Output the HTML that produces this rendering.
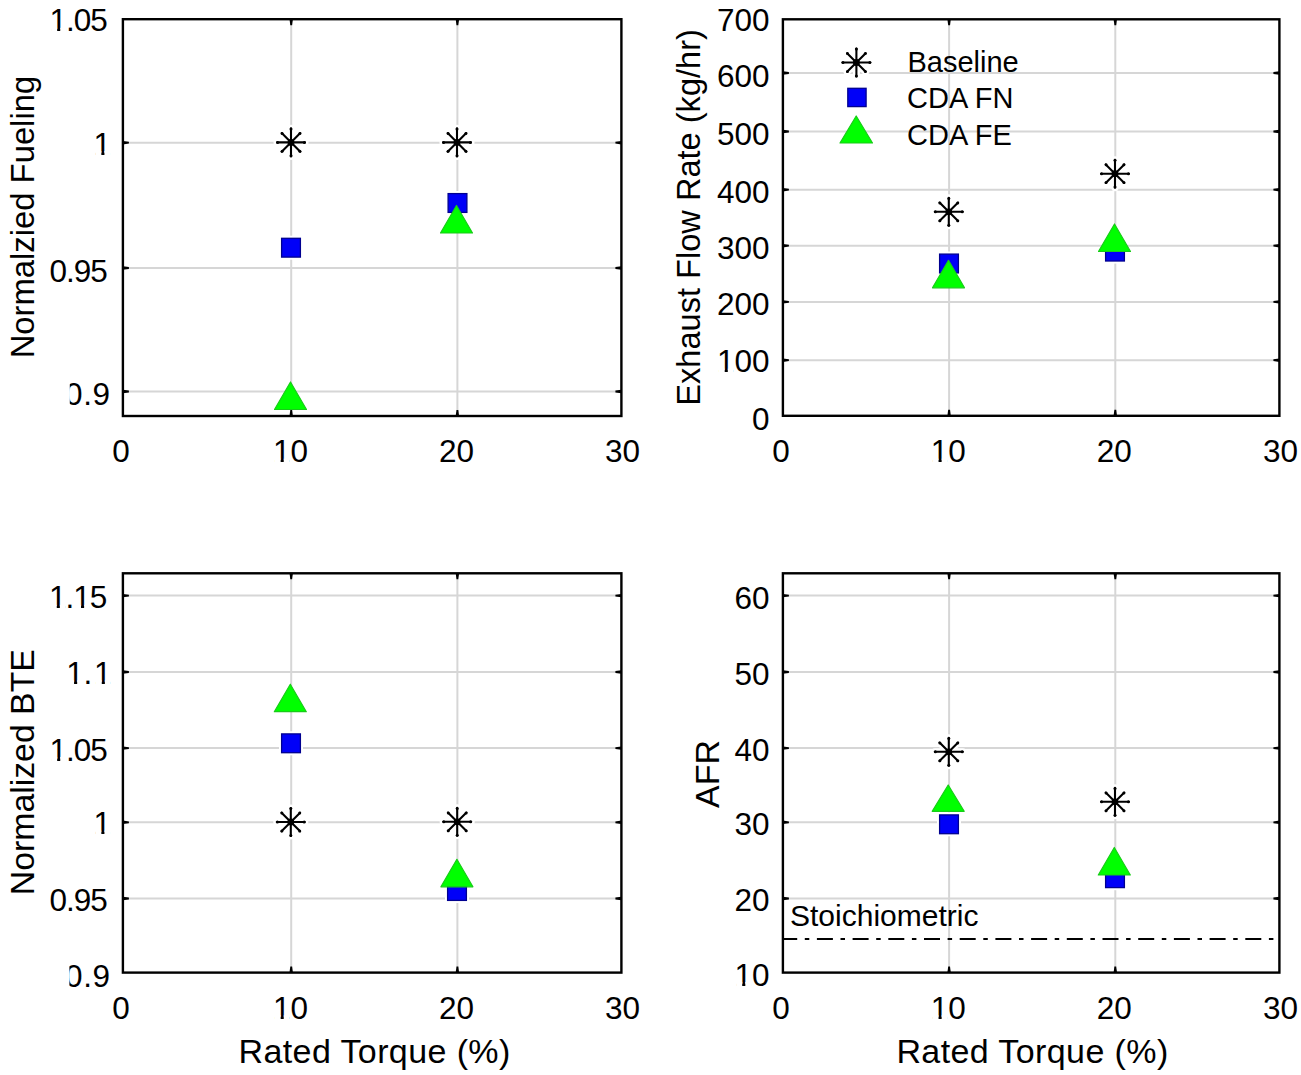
<!DOCTYPE html><html><head><meta charset="utf-8"><style>html,body{margin:0;padding:0;background:#fff;overflow:hidden;}svg{display:block;font-family:"Liberation Sans", sans-serif;}</style></head><body>
<svg width="1301" height="1075" viewBox="0 0 1301 1075">
<rect width="1301" height="1075" fill="#fff"/>
<g>
<line x1="291.2" y1="19.2" x2="291.2" y2="416" stroke="#d6d6d6" stroke-width="2.0"/>
<line x1="457.4" y1="19.2" x2="457.4" y2="416" stroke="#d6d6d6" stroke-width="2.0"/>
<line x1="122.9" y1="142.7" x2="621.4" y2="142.7" stroke="#d6d6d6" stroke-width="2.0"/>
<line x1="122.9" y1="268" x2="621.4" y2="268" stroke="#d6d6d6" stroke-width="2.0"/>
<line x1="122.9" y1="391.5" x2="621.4" y2="391.5" stroke="#d6d6d6" stroke-width="2.0"/>
<path d="M289.50 19.20L290.30 25.20L292.10 25.20L292.90 19.20Z" fill="#000"/>
<path d="M292.90 416.00L292.10 410.00L290.30 410.00L289.50 416.00Z" fill="#000"/>
<path d="M455.70 19.20L456.50 25.20L458.30 25.20L459.10 19.20Z" fill="#000"/>
<path d="M459.10 416.00L458.30 410.00L456.50 410.00L455.70 416.00Z" fill="#000"/>
<path d="M122.90 144.40L128.90 143.60L128.90 141.80L122.90 141.00Z" fill="#000"/>
<path d="M621.40 141.00L615.40 141.80L615.40 143.60L621.40 144.40Z" fill="#000"/>
<path d="M122.90 269.70L128.90 268.90L128.90 267.10L122.90 266.30Z" fill="#000"/>
<path d="M621.40 266.30L615.40 267.10L615.40 268.90L621.40 269.70Z" fill="#000"/>
<path d="M122.90 393.20L128.90 392.40L128.90 390.60L122.90 389.80Z" fill="#000"/>
<path d="M621.40 389.80L615.40 390.60L615.40 392.40L621.40 393.20Z" fill="#000"/>
<rect x="122.9" y="19.2" width="498.5" height="396.8" fill="none" stroke="#000" stroke-width="2.4"/>
<text x="121.1" y="462.3" text-anchor="middle" font-size="31.5">0</text>
<text x="290.4" y="462.3" text-anchor="middle" font-size="31.5">10</text>
<text x="456.4" y="462.3" text-anchor="middle" font-size="31.5">20</text>
<text x="622.6" y="462.3" text-anchor="middle" font-size="31.5">30</text>
<text x="106.7" y="31.4" text-anchor="end" font-size="31.5" letter-spacing="-1">1.05</text>
<text x="111.1" y="154.6" text-anchor="end" font-size="31.5">1</text>
<text x="106.7" y="282.4" text-anchor="end" font-size="31.5" letter-spacing="-1">0.95</text>
<text x="65.0 83.2 92.5" y="405.4" font-size="31.5">0.9</text>
</g>
<line x1="949.1" y1="19.3" x2="949.1" y2="415.8" stroke="#d6d6d6" stroke-width="2.0"/>
<line x1="1115.3" y1="19.3" x2="1115.3" y2="415.8" stroke="#d6d6d6" stroke-width="2.0"/>
<line x1="782.9" y1="73.0" x2="1279.4" y2="73.0" stroke="#d6d6d6" stroke-width="2.0"/>
<line x1="782.9" y1="131.5" x2="1279.4" y2="131.5" stroke="#d6d6d6" stroke-width="2.0"/>
<line x1="782.9" y1="189.7" x2="1279.4" y2="189.7" stroke="#d6d6d6" stroke-width="2.0"/>
<line x1="782.9" y1="245.7" x2="1279.4" y2="245.7" stroke="#d6d6d6" stroke-width="2.0"/>
<line x1="782.9" y1="301.9" x2="1279.4" y2="301.9" stroke="#d6d6d6" stroke-width="2.0"/>
<line x1="782.9" y1="360.2" x2="1279.4" y2="360.2" stroke="#d6d6d6" stroke-width="2.0"/>
<path d="M947.40 19.30L948.20 25.30L950.00 25.30L950.80 19.30Z" fill="#000"/>
<path d="M950.80 415.80L950.00 409.80L948.20 409.80L947.40 415.80Z" fill="#000"/>
<path d="M1113.60 19.30L1114.40 25.30L1116.20 25.30L1117.00 19.30Z" fill="#000"/>
<path d="M1117.00 415.80L1116.20 409.80L1114.40 409.80L1113.60 415.80Z" fill="#000"/>
<path d="M782.90 74.70L788.90 73.90L788.90 72.10L782.90 71.30Z" fill="#000"/>
<path d="M1279.40 71.30L1273.40 72.10L1273.40 73.90L1279.40 74.70Z" fill="#000"/>
<path d="M782.90 133.20L788.90 132.40L788.90 130.60L782.90 129.80Z" fill="#000"/>
<path d="M1279.40 129.80L1273.40 130.60L1273.40 132.40L1279.40 133.20Z" fill="#000"/>
<path d="M782.90 191.40L788.90 190.60L788.90 188.80L782.90 188.00Z" fill="#000"/>
<path d="M1279.40 188.00L1273.40 188.80L1273.40 190.60L1279.40 191.40Z" fill="#000"/>
<path d="M782.90 247.40L788.90 246.60L788.90 244.80L782.90 244.00Z" fill="#000"/>
<path d="M1279.40 244.00L1273.40 244.80L1273.40 246.60L1279.40 247.40Z" fill="#000"/>
<path d="M782.90 303.60L788.90 302.80L788.90 301.00L782.90 300.20Z" fill="#000"/>
<path d="M1279.40 300.20L1273.40 301.00L1273.40 302.80L1279.40 303.60Z" fill="#000"/>
<path d="M782.90 361.90L788.90 361.10L788.90 359.30L782.90 358.50Z" fill="#000"/>
<path d="M1279.40 358.50L1273.40 359.30L1273.40 361.10L1279.40 361.90Z" fill="#000"/>
<rect x="782.9" y="19.3" width="496.5000000000001" height="396.5" fill="none" stroke="#000" stroke-width="2.4"/>
<text x="781.1" y="462.3" text-anchor="middle" font-size="31.5">0</text>
<text x="948.3" y="462.3" text-anchor="middle" font-size="31.5">10</text>
<text x="1114.3" y="462.3" text-anchor="middle" font-size="31.5">20</text>
<text x="1280.6" y="462.3" text-anchor="middle" font-size="31.5">30</text>
<text x="769.5" y="31.2" text-anchor="end" font-size="31.5">700</text>
<text x="769.5" y="87" text-anchor="end" font-size="31.5">600</text>
<text x="769.5" y="144.5" text-anchor="end" font-size="31.5">500</text>
<text x="769.5" y="203" text-anchor="end" font-size="31.5">400</text>
<text x="769.5" y="259" text-anchor="end" font-size="31.5">300</text>
<text x="769.5" y="315" text-anchor="end" font-size="31.5">200</text>
<text x="769.5" y="372.3" text-anchor="end" font-size="31.5">100</text>
<text x="769.5" y="429.6" text-anchor="end" font-size="31.5">0</text>
<line x1="291.2" y1="573.3" x2="291.2" y2="972.6" stroke="#d6d6d6" stroke-width="2.0"/>
<line x1="457.4" y1="573.3" x2="457.4" y2="972.6" stroke="#d6d6d6" stroke-width="2.0"/>
<line x1="122.9" y1="595.6" x2="621.4" y2="595.6" stroke="#d6d6d6" stroke-width="2.0"/>
<line x1="122.9" y1="672.0" x2="621.4" y2="672.0" stroke="#d6d6d6" stroke-width="2.0"/>
<line x1="122.9" y1="748.1" x2="621.4" y2="748.1" stroke="#d6d6d6" stroke-width="2.0"/>
<line x1="122.9" y1="822.3" x2="621.4" y2="822.3" stroke="#d6d6d6" stroke-width="2.0"/>
<line x1="122.9" y1="898.5" x2="621.4" y2="898.5" stroke="#d6d6d6" stroke-width="2.0"/>
<path d="M289.50 573.30L290.30 579.30L292.10 579.30L292.90 573.30Z" fill="#000"/>
<path d="M292.90 972.60L292.10 966.60L290.30 966.60L289.50 972.60Z" fill="#000"/>
<path d="M455.70 573.30L456.50 579.30L458.30 579.30L459.10 573.30Z" fill="#000"/>
<path d="M459.10 972.60L458.30 966.60L456.50 966.60L455.70 972.60Z" fill="#000"/>
<path d="M122.90 597.30L128.90 596.50L128.90 594.70L122.90 593.90Z" fill="#000"/>
<path d="M621.40 593.90L615.40 594.70L615.40 596.50L621.40 597.30Z" fill="#000"/>
<path d="M122.90 673.70L128.90 672.90L128.90 671.10L122.90 670.30Z" fill="#000"/>
<path d="M621.40 670.30L615.40 671.10L615.40 672.90L621.40 673.70Z" fill="#000"/>
<path d="M122.90 749.80L128.90 749.00L128.90 747.20L122.90 746.40Z" fill="#000"/>
<path d="M621.40 746.40L615.40 747.20L615.40 749.00L621.40 749.80Z" fill="#000"/>
<path d="M122.90 824.00L128.90 823.20L128.90 821.40L122.90 820.60Z" fill="#000"/>
<path d="M621.40 820.60L615.40 821.40L615.40 823.20L621.40 824.00Z" fill="#000"/>
<path d="M122.90 900.20L128.90 899.40L128.90 897.60L122.90 896.80Z" fill="#000"/>
<path d="M621.40 896.80L615.40 897.60L615.40 899.40L621.40 900.20Z" fill="#000"/>
<rect x="122.9" y="573.3" width="498.5" height="399.30000000000007" fill="none" stroke="#000" stroke-width="2.4"/>
<text x="121.1" y="1018.9" text-anchor="middle" font-size="31.5">0</text>
<text x="290.4" y="1018.9" text-anchor="middle" font-size="31.5">10</text>
<text x="456.4" y="1018.9" text-anchor="middle" font-size="31.5">20</text>
<text x="622.6" y="1018.9" text-anchor="middle" font-size="31.5">30</text>
<text x="106.3" y="608.4" text-anchor="end" font-size="31.5" letter-spacing="-1">1.15</text>
<text x="66.3 83.5 94.0" y="683.9" font-size="31.5">1.1</text>
<text x="106.7" y="760.5" text-anchor="end" font-size="31.5" letter-spacing="-1">1.05</text>
<text x="111.1" y="834.2" text-anchor="end" font-size="31.5">1</text>
<text x="106.7" y="911" text-anchor="end" font-size="31.5" letter-spacing="-1">0.95</text>
<text x="65.0 83.2 92.5" y="986.9" font-size="31.5">0.9</text>
<line x1="949.1" y1="573.3" x2="949.1" y2="972.6" stroke="#d6d6d6" stroke-width="2.0"/>
<line x1="1115.3" y1="573.3" x2="1115.3" y2="972.6" stroke="#d6d6d6" stroke-width="2.0"/>
<line x1="782.9" y1="595.6" x2="1279.4" y2="595.6" stroke="#d6d6d6" stroke-width="2.0"/>
<line x1="782.9" y1="672.0" x2="1279.4" y2="672.0" stroke="#d6d6d6" stroke-width="2.0"/>
<line x1="782.9" y1="748.1" x2="1279.4" y2="748.1" stroke="#d6d6d6" stroke-width="2.0"/>
<line x1="782.9" y1="822.3" x2="1279.4" y2="822.3" stroke="#d6d6d6" stroke-width="2.0"/>
<line x1="782.9" y1="898.5" x2="1279.4" y2="898.5" stroke="#d6d6d6" stroke-width="2.0"/>
<path d="M947.40 573.30L948.20 579.30L950.00 579.30L950.80 573.30Z" fill="#000"/>
<path d="M950.80 972.60L950.00 966.60L948.20 966.60L947.40 972.60Z" fill="#000"/>
<path d="M1113.60 573.30L1114.40 579.30L1116.20 579.30L1117.00 573.30Z" fill="#000"/>
<path d="M1117.00 972.60L1116.20 966.60L1114.40 966.60L1113.60 972.60Z" fill="#000"/>
<path d="M782.90 597.30L788.90 596.50L788.90 594.70L782.90 593.90Z" fill="#000"/>
<path d="M1279.40 593.90L1273.40 594.70L1273.40 596.50L1279.40 597.30Z" fill="#000"/>
<path d="M782.90 673.70L788.90 672.90L788.90 671.10L782.90 670.30Z" fill="#000"/>
<path d="M1279.40 670.30L1273.40 671.10L1273.40 672.90L1279.40 673.70Z" fill="#000"/>
<path d="M782.90 749.80L788.90 749.00L788.90 747.20L782.90 746.40Z" fill="#000"/>
<path d="M1279.40 746.40L1273.40 747.20L1273.40 749.00L1279.40 749.80Z" fill="#000"/>
<path d="M782.90 824.00L788.90 823.20L788.90 821.40L782.90 820.60Z" fill="#000"/>
<path d="M1279.40 820.60L1273.40 821.40L1273.40 823.20L1279.40 824.00Z" fill="#000"/>
<path d="M782.90 900.20L788.90 899.40L788.90 897.60L782.90 896.80Z" fill="#000"/>
<path d="M1279.40 896.80L1273.40 897.60L1273.40 899.40L1279.40 900.20Z" fill="#000"/>
<rect x="782.9" y="573.3" width="496.5000000000001" height="399.30000000000007" fill="none" stroke="#000" stroke-width="2.4"/>
<text x="781.1" y="1018.9" text-anchor="middle" font-size="31.5">0</text>
<text x="948.3" y="1018.9" text-anchor="middle" font-size="31.5">10</text>
<text x="1114.3" y="1018.9" text-anchor="middle" font-size="31.5">20</text>
<text x="1280.6" y="1018.9" text-anchor="middle" font-size="31.5">30</text>
<text x="769.5" y="608.8" text-anchor="end" font-size="31.5">60</text>
<text x="769.5" y="684.6" text-anchor="end" font-size="31.5">50</text>
<text x="769.5" y="761" text-anchor="end" font-size="31.5">40</text>
<text x="769.5" y="835.2" text-anchor="end" font-size="31.5">30</text>
<text x="769.5" y="911" text-anchor="end" font-size="31.5">20</text>
<text x="769.5" y="985.5" text-anchor="end" font-size="31.5">10</text>
<line x1="783" y1="938.9" x2="1273.5" y2="938.9" stroke="#000" stroke-width="2" stroke-dasharray="16 7.6 4.5 7.6" stroke-dashoffset="1.8"/>
<text x="790" y="926.4" font-size="30">Stoichiometric</text>
<path d="M277.0 142.4H305.0M291.0 128.4V156.4M281.7 133.1L300.3 151.7M281.7 151.7L300.3 133.1" stroke="#fff" stroke-width="7.1" stroke-linecap="round" fill="none"/><path d="M277.0 142.4H305.0M291.0 128.4V156.4M281.7 133.1L300.3 151.7M281.7 151.7L300.3 133.1" stroke="#000" stroke-width="2.1" stroke-linecap="round" fill="none"/><circle cx="291" cy="142.4" r="3.4" fill="#000"/><circle cx="277.6" cy="142.4" r="1.5" fill="#000"/><circle cx="304.4" cy="142.4" r="1.5" fill="#000"/><circle cx="291.0" cy="129.0" r="1.5" fill="#000"/><circle cx="291.0" cy="155.8" r="1.5" fill="#000"/><circle cx="282.1" cy="133.5" r="1.5" fill="#000"/><circle cx="299.9" cy="151.3" r="1.5" fill="#000"/><circle cx="282.1" cy="151.3" r="1.5" fill="#000"/><circle cx="299.9" cy="133.5" r="1.5" fill="#000"/>
<path d="M443.0 142.4H471.0M457.0 128.4V156.4M447.7 133.1L466.3 151.7M447.7 151.7L466.3 133.1" stroke="#fff" stroke-width="7.1" stroke-linecap="round" fill="none"/><path d="M443.0 142.4H471.0M457.0 128.4V156.4M447.7 133.1L466.3 151.7M447.7 151.7L466.3 133.1" stroke="#000" stroke-width="2.1" stroke-linecap="round" fill="none"/><circle cx="457" cy="142.4" r="3.4" fill="#000"/><circle cx="443.6" cy="142.4" r="1.5" fill="#000"/><circle cx="470.4" cy="142.4" r="1.5" fill="#000"/><circle cx="457.0" cy="129.0" r="1.5" fill="#000"/><circle cx="457.0" cy="155.8" r="1.5" fill="#000"/><circle cx="448.1" cy="133.5" r="1.5" fill="#000"/><circle cx="465.9" cy="151.3" r="1.5" fill="#000"/><circle cx="448.1" cy="151.3" r="1.5" fill="#000"/><circle cx="465.9" cy="133.5" r="1.5" fill="#000"/>
<rect x="279.0" y="235.7" width="24.0" height="24.0" fill="#fff"/><rect x="281.6" y="238.3" width="18.8" height="18.8" fill="#0000f8" stroke="#000090" stroke-width="1.3"/>
<rect x="445.5" y="191.0" width="24.0" height="24.0" fill="#fff"/><rect x="448.1" y="193.6" width="18.8" height="18.8" fill="#0000f8" stroke="#000090" stroke-width="1.3"/>
<path d="M290.5 382.0L306.5 409.5L274.5 409.5Z" fill="#00ff00" stroke="#18cc18" stroke-width="1.2" stroke-linejoin="round"/>
<path d="M456.5 205.5L472.5 233.0L440.5 233.0Z" fill="#00ff00" stroke="#18cc18" stroke-width="1.2" stroke-linejoin="round"/>
<path d="M934.8 211.8H962.8M948.8 197.8V225.8M939.5 202.5L958.1 221.1M939.5 221.1L958.1 202.5" stroke="#fff" stroke-width="7.1" stroke-linecap="round" fill="none"/><path d="M934.8 211.8H962.8M948.8 197.8V225.8M939.5 202.5L958.1 221.1M939.5 221.1L958.1 202.5" stroke="#000" stroke-width="2.1" stroke-linecap="round" fill="none"/><circle cx="948.8" cy="211.8" r="3.4" fill="#000"/><circle cx="935.4" cy="211.8" r="1.5" fill="#000"/><circle cx="962.2" cy="211.8" r="1.5" fill="#000"/><circle cx="948.8" cy="198.4" r="1.5" fill="#000"/><circle cx="948.8" cy="225.2" r="1.5" fill="#000"/><circle cx="939.9" cy="202.9" r="1.5" fill="#000"/><circle cx="957.7" cy="220.7" r="1.5" fill="#000"/><circle cx="939.9" cy="220.7" r="1.5" fill="#000"/><circle cx="957.7" cy="202.9" r="1.5" fill="#000"/>
<path d="M1101.0 173.7H1129.0M1115.0 159.7V187.7M1105.7 164.4L1124.3 183.0M1105.7 183.0L1124.3 164.4" stroke="#fff" stroke-width="7.1" stroke-linecap="round" fill="none"/><path d="M1101.0 173.7H1129.0M1115.0 159.7V187.7M1105.7 164.4L1124.3 183.0M1105.7 183.0L1124.3 164.4" stroke="#000" stroke-width="2.1" stroke-linecap="round" fill="none"/><circle cx="1115" cy="173.7" r="3.4" fill="#000"/><circle cx="1101.6" cy="173.7" r="1.5" fill="#000"/><circle cx="1128.4" cy="173.7" r="1.5" fill="#000"/><circle cx="1115.0" cy="160.3" r="1.5" fill="#000"/><circle cx="1115.0" cy="187.1" r="1.5" fill="#000"/><circle cx="1106.1" cy="164.8" r="1.5" fill="#000"/><circle cx="1123.9" cy="182.6" r="1.5" fill="#000"/><circle cx="1106.1" cy="182.6" r="1.5" fill="#000"/><circle cx="1123.9" cy="164.8" r="1.5" fill="#000"/>
<rect x="937.0" y="251.5" width="24.0" height="24.0" fill="#fff"/><rect x="939.6" y="254.1" width="18.8" height="18.8" fill="#0000f8" stroke="#000090" stroke-width="1.3"/>
<rect x="1103.0" y="239.6" width="24.0" height="24.0" fill="#fff"/><rect x="1105.6" y="242.2" width="18.8" height="18.8" fill="#0000f8" stroke="#000090" stroke-width="1.3"/>
<path d="M948.5 260.3L964.5 287.8L932.5 287.8Z" fill="#00ff00" stroke="#18cc18" stroke-width="1.2" stroke-linejoin="round"/>
<path d="M1114.5 224.0L1130.5 251.5L1098.5 251.5Z" fill="#00ff00" stroke="#18cc18" stroke-width="1.2" stroke-linejoin="round"/>
<path d="M276.8 822.0H304.8M290.8 808.0V836.0M281.5 812.7L300.1 831.3M281.5 831.3L300.1 812.7" stroke="#fff" stroke-width="7.1" stroke-linecap="round" fill="none"/><path d="M276.8 822.0H304.8M290.8 808.0V836.0M281.5 812.7L300.1 831.3M281.5 831.3L300.1 812.7" stroke="#000" stroke-width="2.1" stroke-linecap="round" fill="none"/><circle cx="290.8" cy="822" r="3.4" fill="#000"/><circle cx="277.4" cy="822.0" r="1.5" fill="#000"/><circle cx="304.2" cy="822.0" r="1.5" fill="#000"/><circle cx="290.8" cy="808.6" r="1.5" fill="#000"/><circle cx="290.8" cy="835.4" r="1.5" fill="#000"/><circle cx="281.9" cy="813.1" r="1.5" fill="#000"/><circle cx="299.7" cy="830.9" r="1.5" fill="#000"/><circle cx="281.9" cy="830.9" r="1.5" fill="#000"/><circle cx="299.7" cy="813.1" r="1.5" fill="#000"/>
<path d="M443.2 821.8H471.2M457.2 807.8V835.8M447.9 812.5L466.5 831.1M447.9 831.1L466.5 812.5" stroke="#fff" stroke-width="7.1" stroke-linecap="round" fill="none"/><path d="M443.2 821.8H471.2M457.2 807.8V835.8M447.9 812.5L466.5 831.1M447.9 831.1L466.5 812.5" stroke="#000" stroke-width="2.1" stroke-linecap="round" fill="none"/><circle cx="457.2" cy="821.8" r="3.4" fill="#000"/><circle cx="443.8" cy="821.8" r="1.5" fill="#000"/><circle cx="470.6" cy="821.8" r="1.5" fill="#000"/><circle cx="457.2" cy="808.4" r="1.5" fill="#000"/><circle cx="457.2" cy="835.2" r="1.5" fill="#000"/><circle cx="448.3" cy="812.9" r="1.5" fill="#000"/><circle cx="466.1" cy="830.7" r="1.5" fill="#000"/><circle cx="448.3" cy="830.7" r="1.5" fill="#000"/><circle cx="466.1" cy="812.9" r="1.5" fill="#000"/>
<rect x="279.0" y="731.3" width="24.0" height="24.0" fill="#fff"/><rect x="281.6" y="733.9" width="18.8" height="18.8" fill="#0000f8" stroke="#000090" stroke-width="1.3"/>
<rect x="445.0" y="879.0" width="24.0" height="24.0" fill="#fff"/><rect x="447.6" y="881.6" width="18.8" height="18.8" fill="#0000f8" stroke="#000090" stroke-width="1.3"/>
<path d="M290.3 684.2L306.3 711.7L274.3 711.7Z" fill="#00ff00" stroke="#18cc18" stroke-width="1.2" stroke-linejoin="round"/>
<path d="M456.9 859.3L472.9 886.8L440.9 886.8Z" fill="#00ff00" stroke="#18cc18" stroke-width="1.2" stroke-linejoin="round"/>
<path d="M934.8 751.8H962.8M948.8 737.8V765.8M939.5 742.5L958.1 761.1M939.5 761.1L958.1 742.5" stroke="#fff" stroke-width="7.1" stroke-linecap="round" fill="none"/><path d="M934.8 751.8H962.8M948.8 737.8V765.8M939.5 742.5L958.1 761.1M939.5 761.1L958.1 742.5" stroke="#000" stroke-width="2.1" stroke-linecap="round" fill="none"/><circle cx="948.8" cy="751.8" r="3.4" fill="#000"/><circle cx="935.4" cy="751.8" r="1.5" fill="#000"/><circle cx="962.2" cy="751.8" r="1.5" fill="#000"/><circle cx="948.8" cy="738.4" r="1.5" fill="#000"/><circle cx="948.8" cy="765.2" r="1.5" fill="#000"/><circle cx="939.9" cy="742.9" r="1.5" fill="#000"/><circle cx="957.7" cy="760.7" r="1.5" fill="#000"/><circle cx="939.9" cy="760.7" r="1.5" fill="#000"/><circle cx="957.7" cy="742.9" r="1.5" fill="#000"/>
<path d="M1101.0 801.8H1129.0M1115.0 787.8V815.8M1105.7 792.5L1124.3 811.1M1105.7 811.1L1124.3 792.5" stroke="#fff" stroke-width="7.1" stroke-linecap="round" fill="none"/><path d="M1101.0 801.8H1129.0M1115.0 787.8V815.8M1105.7 792.5L1124.3 811.1M1105.7 811.1L1124.3 792.5" stroke="#000" stroke-width="2.1" stroke-linecap="round" fill="none"/><circle cx="1115" cy="801.8" r="3.4" fill="#000"/><circle cx="1101.6" cy="801.8" r="1.5" fill="#000"/><circle cx="1128.4" cy="801.8" r="1.5" fill="#000"/><circle cx="1115.0" cy="788.4" r="1.5" fill="#000"/><circle cx="1115.0" cy="815.2" r="1.5" fill="#000"/><circle cx="1106.1" cy="792.9" r="1.5" fill="#000"/><circle cx="1123.9" cy="810.7" r="1.5" fill="#000"/><circle cx="1106.1" cy="810.7" r="1.5" fill="#000"/><circle cx="1123.9" cy="792.9" r="1.5" fill="#000"/>
<rect x="937.0" y="812.3" width="24.0" height="24.0" fill="#fff"/><rect x="939.6" y="814.9" width="18.8" height="18.8" fill="#0000f8" stroke="#000090" stroke-width="1.3"/>
<rect x="1103.0" y="866.2" width="24.0" height="24.0" fill="#fff"/><rect x="1105.6" y="868.8" width="18.8" height="18.8" fill="#0000f8" stroke="#000090" stroke-width="1.3"/>
<path d="M948.2 785.0L964.2 811.3L932.2 811.3Z" fill="#00ff00" stroke="#18cc18" stroke-width="1.2" stroke-linejoin="round"/>
<path d="M1114.3 847.5L1130.3 875.0L1098.3 875.0Z" fill="#00ff00" stroke="#18cc18" stroke-width="1.2" stroke-linejoin="round"/>
<path d="M842.4 62.5H870.4M856.4 48.5V76.5M847.1 53.2L865.7 71.8M847.1 71.8L865.7 53.2" stroke="#fff" stroke-width="7.1" stroke-linecap="round" fill="none"/><path d="M842.4 62.5H870.4M856.4 48.5V76.5M847.1 53.2L865.7 71.8M847.1 71.8L865.7 53.2" stroke="#000" stroke-width="2.1" stroke-linecap="round" fill="none"/><circle cx="856.4" cy="62.5" r="3.4" fill="#000"/><circle cx="843.0" cy="62.5" r="1.5" fill="#000"/><circle cx="869.8" cy="62.5" r="1.5" fill="#000"/><circle cx="856.4" cy="49.1" r="1.5" fill="#000"/><circle cx="856.4" cy="75.9" r="1.5" fill="#000"/><circle cx="847.5" cy="53.6" r="1.5" fill="#000"/><circle cx="865.3" cy="71.4" r="1.5" fill="#000"/><circle cx="847.5" cy="71.4" r="1.5" fill="#000"/><circle cx="865.3" cy="53.6" r="1.5" fill="#000"/>
<rect x="845.1" y="85.8" width="23.5" height="23.5" fill="#fff"/><rect x="847.8" y="88.3" width="18.3" height="18.3" fill="#0000f8" stroke="#000090" stroke-width="1.3"/>
<path d="M856.2 116.0L872.5 143.0L840.0 143.0Z" fill="#00ff00" stroke="#18cc18" stroke-width="1.2" stroke-linejoin="round"/>
<text x="907.5" y="71.8" font-size="29">Baseline</text>
<text x="907" y="107.7" font-size="29">CDA FN</text>
<text x="907" y="145.3" font-size="29">CDA FE</text>
<text transform="translate(33.9 217.1) rotate(-90)" text-anchor="middle" font-size="32.8">Normalzied Fueling</text>
<text transform="translate(700.2 217.4) rotate(-90)" text-anchor="middle" font-size="32.6">Exhaust Flow Rate (kg/hr)</text>
<text transform="translate(33.9 772.2) rotate(-90)" text-anchor="middle" font-size="33.8">Normalized BTE</text>
<text transform="translate(718.5 774) rotate(-90)" text-anchor="middle" font-size="34">AFR</text>
<text x="374.6" y="1062.7" text-anchor="middle" font-size="34" letter-spacing="0.4">Rated Torque (%)</text>
<text x="1032.5" y="1062.7" text-anchor="middle" font-size="34" letter-spacing="0.4">Rated Torque (%)</text>
<rect x="40" y="378" width="29.8" height="32" fill="#fff"/>
<rect x="40" y="958" width="29.4" height="34" fill="#fff"/>
<rect x="1298" y="430" width="10" height="40" fill="#fff"/>
<rect x="274.58" y="458.75" width="6.07" height="4.35" fill="#fff"/>
<rect x="283.73" y="458.75" width="5.83" height="4.35" fill="#fff"/>
<rect x="51.09" y="27.85" width="6.07" height="4.35" fill="#fff"/>
<rect x="60.24" y="27.85" width="5.83" height="4.35" fill="#fff"/>
<rect x="95.27" y="151.05" width="6.07" height="4.35" fill="#fff"/>
<rect x="104.42" y="151.05" width="5.83" height="4.35" fill="#fff"/>
<rect x="932.48" y="458.75" width="6.07" height="4.35" fill="#fff"/>
<rect x="941.63" y="458.75" width="5.83" height="4.35" fill="#fff"/>
<rect x="718.64" y="368.75" width="6.07" height="4.35" fill="#fff"/>
<rect x="727.79" y="368.75" width="5.83" height="4.35" fill="#fff"/>
<rect x="274.58" y="1015.35" width="6.07" height="4.35" fill="#fff"/>
<rect x="283.73" y="1015.35" width="5.83" height="4.35" fill="#fff"/>
<rect x="50.69" y="604.85" width="6.07" height="4.35" fill="#fff"/>
<rect x="59.84" y="604.85" width="5.83" height="4.35" fill="#fff"/>
<rect x="74.95" y="604.85" width="6.07" height="4.35" fill="#fff"/>
<rect x="84.11" y="604.85" width="5.83" height="4.35" fill="#fff"/>
<rect x="68.00" y="680.35" width="6.07" height="4.35" fill="#fff"/>
<rect x="77.16" y="680.35" width="5.83" height="4.35" fill="#fff"/>
<rect x="95.70" y="680.35" width="6.07" height="4.35" fill="#fff"/>
<rect x="104.86" y="680.35" width="5.83" height="4.35" fill="#fff"/>
<rect x="51.09" y="756.95" width="6.07" height="4.35" fill="#fff"/>
<rect x="60.24" y="756.95" width="5.83" height="4.35" fill="#fff"/>
<rect x="95.27" y="830.65" width="6.07" height="4.35" fill="#fff"/>
<rect x="104.42" y="830.65" width="5.83" height="4.35" fill="#fff"/>
<rect x="932.48" y="1015.35" width="6.07" height="4.35" fill="#fff"/>
<rect x="941.63" y="1015.35" width="5.83" height="4.35" fill="#fff"/>
<rect x="736.15" y="981.95" width="6.07" height="4.35" fill="#fff"/>
<rect x="745.31" y="981.95" width="5.83" height="4.35" fill="#fff"/>
</svg></body></html>
